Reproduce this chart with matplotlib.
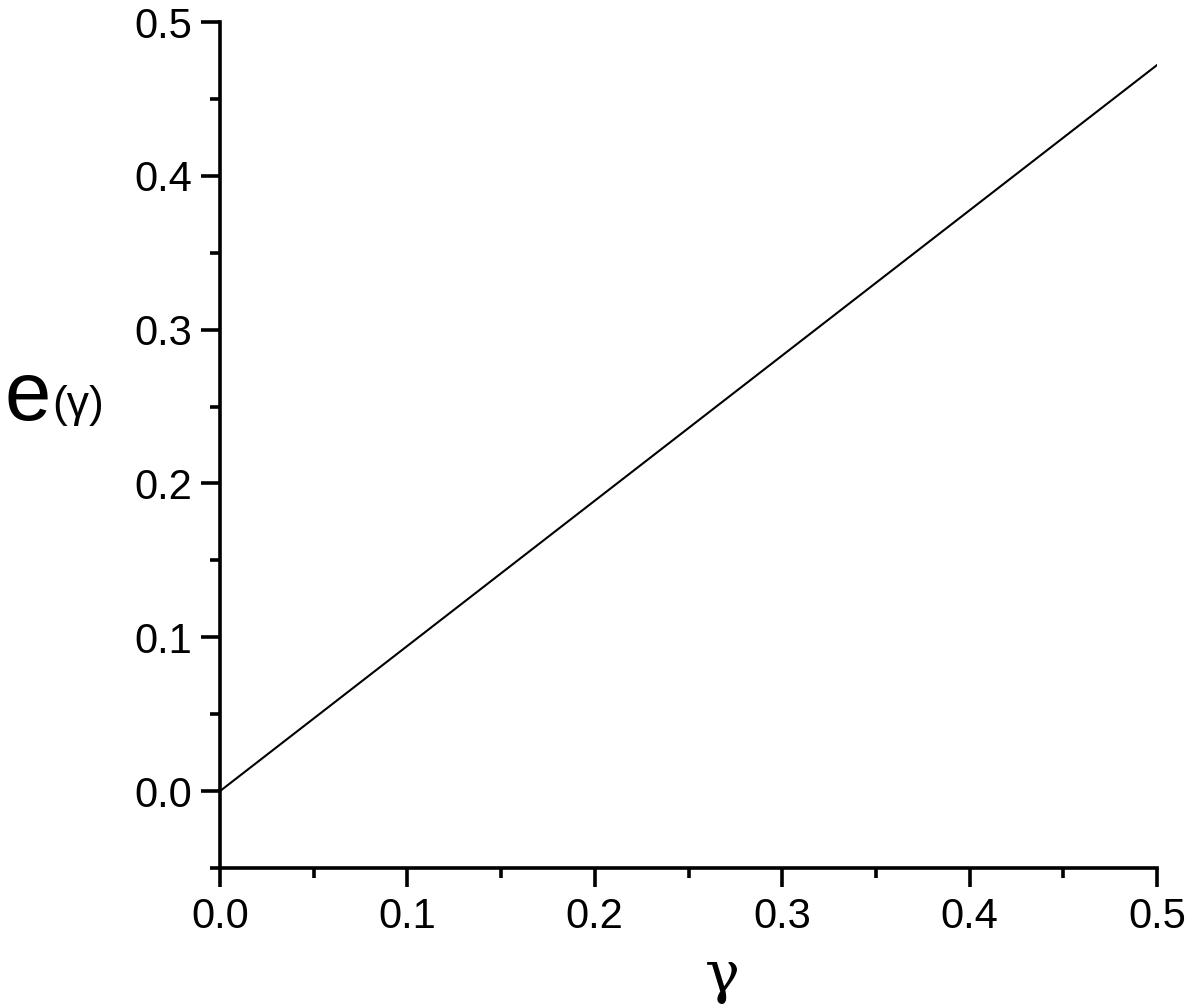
import matplotlib
matplotlib.use("Agg")
import matplotlib.pyplot as plt
import numpy as np

# data
gamma = [0.0, 0.1, 0.2, 0.3, 0.4, 0.5]
e_gamma = [0.0, 0.0944, 0.1888, 0.2832, 0.3776, 0.472]
xticks = [0.0, 0.1, 0.2, 0.3, 0.4, 0.5]
yticks = [0.0, 0.1, 0.2, 0.3, 0.4, 0.5]
xlim = (0.0, 0.5)
ylim = (-0.05, 0.5)

plt.rcParams['font.family'] = ['Liberation Sans', 'DejaVu Sans']

fig = plt.figure(figsize=(11.92, 10.08), dpi=100)
ax = fig.add_axes([220/1192, 140/1008, 937/1192, 846/1008])

ax.plot(gamma, e_gamma, color='black', lw=1.5)

ax.set_xlim(*xlim)
ax.set_ylim(*ylim)
ax.set_xticks(xticks)
ax.set_yticks(yticks)
ax.set_xticklabels(['%.1f' % v for v in xticks])
ax.set_yticklabels(['%.1f' % v for v in yticks])
ax.set_xticks(np.arange(0.05, 0.5, 0.1), minor=True)
ax.set_yticks([-0.05, 0.05, 0.15, 0.25, 0.35, 0.45], minor=True)

for s in ['top', 'right']:
    ax.spines[s].set_visible(False)
for s in ['left', 'bottom']:
    ax.spines[s].set_linewidth(2.6)

ax.tick_params(which='major', direction='out', length=14, width=2.6, labelsize=30, pad=6)
ax.tick_params(which='minor', direction='out', length=7, width=2.6)
ax.tick_params(axis='x', pad=7)

fig.text(722/1192, 1 - 976/1008, 'γ', family=['DejaVu Serif'],
         fontsize=42, ha='center', va='center')
fig.text(4/1192, 1 - 398/1008, 'e', fontsize=60, ha='left', va='center')
fig.text(52/1192, 1 - 406/1008, '(γ)', family=['Liberation Sans', 'DejaVu Serif'],
         fontsize=32, ha='left', va='center')

fig.savefig('out.png', dpi=100)
